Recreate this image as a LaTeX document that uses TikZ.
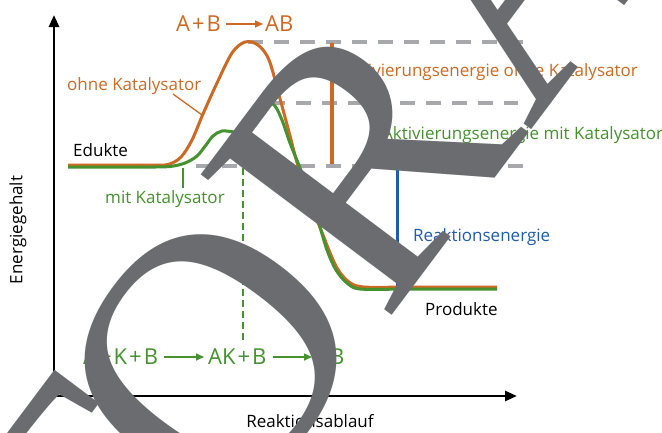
\documentclass[tikz,border=0pt]{standalone}
\usepackage{fontspec}
\setmainfont{Open Sans}
\newfontfamily\wmfont{Liberation Serif}
\usetikzlibrary{arrows.meta}
\definecolor{orng}{HTML}{CC6A24}
\definecolor{grn}{HTML}{45922F}
\definecolor{blu}{HTML}{1F5DAA}
\definecolor{dgray}{HTML}{A7A8AC}
\definecolor{wmgray}{HTML}{6B6C70}
\newcommand\myfs[1]{\fontsize{#1}{#1}\selectfont}
\newcommand\pl{\kern2pt+\kern2pt}
\tikzset{
  axisline/.style={line width=2.6pt, {Triangle[length=12pt,width=10pt]}-{Triangle[length=12pt,width=10pt]}},
  dashgray/.style={draw=dgray, line width=3.6pt, dash pattern=on 15pt off 11pt},
  ocurve/.style={draw=orng, line width=3pt, line join=round},
  gcurve/.style={draw=grn, line width=3pt, line join=round},
  lbl/.style={inner sep=0pt, font=\myfs{17}},
  rlbl/.style={inner sep=0pt, font=\myfs{22}},
  rarrow/.style={line width=1.6pt, -{Triangle[length=8pt,width=7pt]}},
  leader/.style={line width=1.3pt},
}
\begin{document}
\begin{tikzpicture}[x=1pt,y=-1pt]
\useasboundingbox (0,0) rectangle (662,432);
\clip (0,0) rectangle (662,432);
\fill[white] (0,0) rectangle (662,432);

% axes
\coordinate (origin) at (54,396);
\coordinate (ytip) at (54,15);
\coordinate (xtip) at (517,396);
\draw[axisline] (ytip) -- (origin) -- (xtip);
\node[lbl, rotate=90] (ylab) at (18,230) {Energiegehalt};
\node[lbl] (xlab) at (310,421) {Reaktionsablauf};

% dashed levels
\coordinate (t1) at (248,42);  \coordinate (t2) at (526,42);
\coordinate (m1) at (270,103); \coordinate (m2) at (518,103);
\coordinate (b1) at (196,166); \coordinate (b2) at (528,166);
\draw[dashgray] (t1) -- (t2);
\draw[dashgray] (m1) -- (m2);
\draw[dashgray] (b1) -- (b2);

% energy differences
\coordinate (oa1) at (332,43); \coordinate (oa2) at (332,164);
\draw[orng, line width=3.5pt] (oa1) -- (oa2);
\coordinate (re1) at (397,167); \coordinate (re2) at (397,288);
\draw[blu, line width=3pt] (re1) -- (re2);
\coordinate (gd1) at (243,168); \coordinate (gd2) at (243,340);
\draw[grn, line width=2.5pt, dash pattern=on 7pt off 4pt] (gd1) -- (gd2);

% curves
\draw[ocurve] (68,165) -- plot[smooth, tension=0.55] coordinates {(150,165) (168,164.5) (181,157) (192,140) (203,114) (217,83) (232,53) (245,42) (258,45) (269,60) (279,95) (289,132) (298,166) (309,199) (321,230) (336,266) (349,282) (364,287) (400,287)} -- (497,287);
\draw[gcurve] (68,167) -- plot[smooth, tension=0.55] coordinates {(150,167) (170,166.5) (185,163) (197,156) (206,145) (213,136) (222,131) (236,132) (248,131) (256,124) (262,111) (268,103) (275,106) (282,120) (290,143) (300,168) (309,194) (317,217) (327,250) (336,270) (347,283) (360,289) (400,289)} -- (497,289);

% labels
\node[lbl, anchor=west] (edukte) at (73,150) {Edukte};
\node[lbl, anchor=west] (produkte) at (425,309) {Produkte};
\node[lbl, anchor=west, text=orng] (ohne) at (67,86) {ohne Katalysator};
\coordinate (ohneA) at (173,94); \coordinate (ohneB) at (202,115);
\draw[leader, orng] (ohneA) -- (ohneB);
\node[lbl, anchor=west, text=grn] (mit) at (105,199) {mit Katalysator};
\coordinate (mitA) at (183,168); \coordinate (mitB) at (183,188);
\draw[leader, grn] (mitA) -- (mitB);
\node[lbl, anchor=east, text=orng] (aeo) at (638,72) {Aktivierungsenergie ohne Katalysator};
\node[lbl, anchor=west, text=grn] (aem) at (382,135) {Aktivierungsenergie mit Katalysator};
\node[lbl, anchor=west, text=blu] (reak) at (413,237) {Reaktionsenergie};

% reaction without catalyst
\node[rlbl, anchor=west, text=orng] (o1) at (176,24) {A\pl B};
\node[rlbl, anchor=west, text=orng] (o2) at (265,24) {AB};
\draw[rarrow, orng] (226,24) coordinate (oarA) -- (263,24) coordinate (oarB);

% reaction with catalyst
\node[rlbl, anchor=west, text=grn] (g1) at (83,357) {A\pl K\pl B};
\node[rlbl, anchor=west, text=grn] (g2) at (208,357) {AK\pl B};
\node[rlbl, anchor=west, text=grn] (g3) at (316,357) {AB};
\draw[rarrow, grn] (164,357) coordinate (gaA) -- (204,357) coordinate (gaB);
\draw[rarrow, grn] (273,357) coordinate (gbA) -- (312,357) coordinate (gbB);

% watermark
\node[rotate=53.13, anchor=base west, inner sep=0pt, text=wmgray, font=\wmfont\myfs{362}] (wm) at (115,685) {T\kern-34pt ORA};
\end{tikzpicture}
\end{document}
